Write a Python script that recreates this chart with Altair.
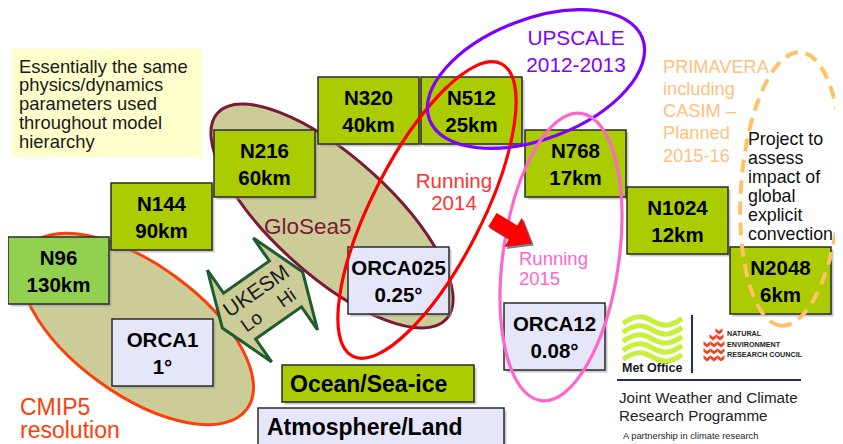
import altair as alt
import pandas as pd

# ------------------------------------------------------------------ data
# Diagram coordinates: x to the right, y downward (1 unit = 1 px of the slide)
box_line1 = ["N96", "N144", "N216", "N320", "N512", "N768", "N1024", "N2048", "ORCA1", "ORCA025", "ORCA12"]
box_line2 = ["130km", "90km", "60km", "40km", "25km", "17km", "12km", "6km", "1°", "0.25°", "0.08°"]
box_kind = ["n96"] + ["atm"] * 7 + ["ocn"] * 3
box_left = [8, 111, 214, 318, 421, 525, 627, 730, 112, 348, 504]
box_top = [237, 183, 130, 77, 77, 130, 187, 247, 319, 247, 303]

key_labels = ["Ocean/Sea-ice", "Atmosphere/Land"]
key_kind = ["atm", "ocn"]
key_left = [282, 258]
key_right = [474, 504]
key_top = [365, 408]
key_bottom = [402, 450]
key_text_x = [290, 267]
key_text_y = [385, 428]

note_lines = ["Essentially the same", "physics/dynamics", "parameters used",
              "throughout model", "hierarchy"]
note_rect = [12, 49, 202, 157]

ell_names = ["CMIP5", "GloSea5", "Running 2014", "UPSCALE", "Running 2015", "PRIMAVERA"]
ell_cx = [137, 332, 427, 536, 561, 791]
ell_cy = [329, 216, 210, 79, 257, 189]
ell_a = [136, 154, 164, 114, 145, 137]
ell_b = [65, 59, 55, 60, 58, 50]
ell_angle = [36, 42, 117, 339, 98, 94]
ell_stroke = ["#FF3D0A", "#7B1A35", "#FF0000", "#7F00FF", "#FF66CC", "#FFC266"]

wave_y = [321, 330, 339, 348, 357]
nerc_x = [719, 713, 720, 707, 714, 721, 707, 714, 721, 707, 714, 721]
nerc_y = [331, 337, 337, 344, 344, 344, 351, 351, 351, 358, 358, 358]

FILL = {"n96": "#92D050", "atm": "#AACC00", "ocn": "#E6E6FA"}
KHAKI = "#CCCC99"

# ------------------------------------------------------------------ helpers
XS = alt.Scale(domain=[8, 835], nice=False, zero=False)
YS = alt.Scale(domain=[8, 444], nice=False, zero=False, reverse=True)


def X(f):
    return alt.X(f"{f}:Q", scale=XS, axis=None)


def Y(f):
    return alt.Y(f"{f}:Q", scale=YS, axis=None)


def ellipse_path(r):
    k = 0.5523
    kr = round(k * r, 4)
    r = round(r, 4)
    return (f"M 1 0 C 1 {kr} {k} {r} 0 {r} C {-k} {r} -1 {kr} -1 0 "
            f"C -1 {-kr} {-k} {-r} 0 {-r} C {k} {-r} 1 {-kr} 1 0 Z")


ARROW = "M -1 -0.35 L 0.05 -0.35 L 0.05 -0.74 L 1 0 L 0.05 0.74 L 0.05 0.35 L -1 0.35 Z"
DOUBLE_ARROW = ("M 0.875 0 L 0.5 1 L 0.5 0.5 L -0.5 0.5 L -0.5 1 L -0.875 0 "
                "L -0.5 -1 L -0.5 -0.5 L 0.5 -0.5 L 0.5 -1 Z")
WAVE = "M -1 0.08 C -0.6 -0.2 -0.35 -0.2 0 0 C 0.35 0.2 0.6 0.2 1 -0.08"
CHEVRON = "M -1 -0.8 L 0 0 L 1 -0.8 L 1 0.2 L 0 1 L -1 0.2 Z"

# ------------------------------------------------------------------ frames
ell = pd.DataFrame(dict(name=ell_names, cx=ell_cx, cy=ell_cy, a=ell_a, b=ell_b,
                        angle=ell_angle, stroke=ell_stroke))
ell["shape"] = [ellipse_path(b / a) for a, b in zip(ell.a, ell.b)]
ell["size"] = (2 * ell.a) ** 2

boxes = pd.DataFrame(dict(l1=box_line1, l2=box_line2, kind=box_kind, left=box_left, top=box_top))
boxes["right"] = boxes.left + 101
boxes["bottom"] = boxes.top + 67
boxes["fill"] = boxes.kind.map(FILL)
boxes["cx"] = boxes.left + 50.5

keys = pd.DataFrame(dict(label=key_labels, kind=key_kind, left=key_left, right=key_right,
                         top=key_top, bottom=key_bottom, tx=key_text_x, ty=key_text_y))
keys["fill"] = keys.kind.map(FILL)

allrects = pd.concat([boxes[["left", "right", "top", "bottom", "fill"]],
                      keys[["left", "right", "top", "bottom", "fill"]]], ignore_index=True)
shadow = allrects.copy()
for c in ["left", "right", "top", "bottom"]:
    shadow[c] = shadow[c] + 2.5

box_text = pd.concat([
    pd.DataFrame(dict(x=boxes.cx, y=boxes.top + 21.5, t=boxes.l1)),
    pd.DataFrame(dict(x=boxes.cx, y=boxes.top + 48.5, t=boxes.l2)),
], ignore_index=True)

layers = []

# note box
layers.append(alt.Chart(pd.DataFrame(dict(l=[note_rect[0]], t=[note_rect[1]], r=[note_rect[2]], b=[note_rect[3]])))
              .mark_rect(color="#FFFFCC", opacity=1)
              .encode(x=X("l"), x2=alt.X2("r:Q"), y=Y("t"), y2=alt.Y2("b:Q")))

# filled ellipses (CMIP5, GloSea5)
layers.append(alt.Chart(ell.iloc[:2]).mark_point(filled=True, fill=KHAKI, strokeWidth=3, opacity=1,
                                                 fillOpacity=1, strokeOpacity=1)
              .encode(x=X("cx"), y=Y("cy"), shape=alt.Shape("shape:N", scale=None),
                      size=alt.Size("size:Q", scale=None), angle=alt.Angle("angle:Q", scale=None),
                      stroke=alt.Stroke("stroke:N", scale=None)))

# UKESM double arrow
layers.append(alt.Chart(pd.DataFrame(dict(cx=[262.5], cy=[300]))).mark_point(
    filled=True, fill=KHAKI, stroke="#1E5B2E", strokeWidth=3, opacity=1, fillOpacity=1, strokeOpacity=1,
    shape=DOUBLE_ARROW, size=12544, angle=325, strokeJoin="miter")
    .encode(x=X("cx"), y=Y("cy")))

# box shadows and boxes
layers.append(alt.Chart(shadow).mark_rect(color="#9A9A9A", opacity=0.55)
              .encode(x=X("left"), x2=alt.X2("right:Q"), y=Y("top"), y2=alt.Y2("bottom:Q")))
layers.append(alt.Chart(allrects).mark_rect(stroke="#2A2A2A", strokeWidth=1.5, opacity=1)
              .encode(x=X("left"), x2=alt.X2("right:Q"), y=Y("top"), y2=alt.Y2("bottom:Q"),
                      fill=alt.Fill("fill:N", scale=None)))
layers.append(alt.Chart(box_text).mark_text(font="Liberation Sans", fontWeight="bold", fontSize=20.5,
                                            color="#000000", align="center", baseline="middle")
              .encode(x=X("x"), y=Y("y"), text="t:N"))
layers.append(alt.Chart(keys).mark_text(font="Liberation Sans", fontWeight="bold", fontSize=23,
                                        color="#000000", align="left", baseline="middle")
              .encode(x=X("tx"), y=Y("ty"), text="label:N"))

# outline ellipses
layers.append(alt.Chart(ell.iloc[2:5]).mark_point(filled=False, strokeWidth=3.2, opacity=1, strokeOpacity=1)
              .encode(x=X("cx"), y=Y("cy"), shape=alt.Shape("shape:N", scale=None),
                      size=alt.Size("size:Q", scale=None), angle=alt.Angle("angle:Q", scale=None),
                      stroke=alt.Stroke("stroke:N", scale=None)))
layers.append(alt.Chart(ell.iloc[5:]).mark_point(filled=False, strokeWidth=4, opacity=1, strokeOpacity=1,
                                                 strokeDash=[13, 8])
              .encode(x=X("cx"), y=Y("cy"), shape=alt.Shape("shape:N", scale=None),
                      size=alt.Size("size:Q", scale=None), angle=alt.Angle("angle:Q", scale=None),
                      stroke=alt.Stroke("stroke:N", scale=None)))

# red arrow with shadow
layers.append(alt.Chart(pd.DataFrame(dict(cx=[514.1], cy=[233.7]))).mark_point(
    filled=True, fill="#6A80A8", opacity=1, fillOpacity=1, shape=ARROW, size=2116, angle=31, strokeWidth=0)
    .encode(x=X("cx"), y=Y("cy")))
layers.append(alt.Chart(pd.DataFrame(dict(cx=[512.1], cy=[231.7]))).mark_point(
    filled=True, fill="#FF0000", opacity=1, fillOpacity=1, shape=ARROW, size=2116, angle=31, strokeWidth=0)
    .encode(x=X("cx"), y=Y("cy")))


# free text blocks
def text_block(lines, x, y0, dy, size, color, align="left", weight="normal", font="Liberation Sans", angle=0):
    df = pd.DataFrame(dict(t=lines, x=[x] * len(lines), y=[y0 + i * dy for i in range(len(lines))]))
    kw = dict(font=font, fontSize=size, fontWeight=weight, color=color, align=align, baseline="middle")
    if angle:
        kw["angle"] = angle
    return alt.Chart(df).mark_text(**kw).encode(x=X("x"), y=Y("y"), text="t:N")


layers += [
    text_block(note_lines, 19, 66.7, 18.75, 18.4, "#1A1A1A"),
    text_block(["CMIP5", "resolution"], 20, 408, 22.5, 23, "#FF3D0A"),
    text_block(["GloSea5"], 264, 227, 0, 22.5, "#7B1A35"),
    text_block(["Running", "2014"], 454, 182, 22, 20.5, "#FF3333", align="center"),
    text_block(["UPSCALE", "2012-2013"], 576, 39, 26.5, 20.8, "#7F00FF", align="center"),
    text_block(["Running", "2015"], 519, 259, 19.5, 18.5, "#FF66CC"),
    text_block(["PRIMAVERA", "including", "CASIM –", "Planned", "2015-16"], 663, 67.7, 22.25, 18.2, "#FFC080"),
    text_block(["Project to", "assess", "impact of", "global", "explicit", "convection"], 748, 140, 19, 17.8,
               "#111111"),
    text_block(["UKESM"], 256.7, 291.7, 0, 21, "#1B1B1B", align="center", angle=325),
    text_block(["Lo"], 251.7, 321.7, 0, 19, "#1B1B1B", align="center", angle=325),
    text_block(["Hi"], 286.7, 298.3, 0, 19, "#1B1B1B", align="center", angle=325),
    text_block(["Joint Weather and Climate", "Research Programme"], 619, 398, 17.5, 15.2, "#222222"),
    text_block(["A partnership in climate research"], 623, 436, 0, 9.3, "#222222"),
    text_block(["Met Office"], 622, 368, 0, 12.5, "#1A1A1A", weight="bold"),
    text_block(["NATURAL", "ENVIRONMENT", "RESEARCH COUNCIL"], 727, 334.3, 10.3, 7.2, "#222222", weight="bold"),
]

# logos: Met Office waves, NERC chevrons, separator rules
layers.append(alt.Chart(pd.DataFrame(dict(cx=[652.5] * len(wave_y), cy=wave_y))).mark_point(
    filled=False, stroke="#C6F03A", strokeWidth=5, opacity=1, strokeOpacity=1, shape=WAVE, size=3481)
    .encode(x=X("cx"), y=Y("cy")))
layers.append(alt.Chart(pd.DataFrame(dict(cx=nerc_x, cy=nerc_y))).mark_point(
    filled=True, fill="#EE4422", opacity=1, fillOpacity=1, shape=CHEVRON, size=49, strokeWidth=0)
    .encode(x=X("cx"), y=Y("cy")))
layers.append(alt.Chart(pd.DataFrame(dict(x=[692], y=[315], y2=[373]))).mark_rule(color="#1F2F5F", strokeWidth=2)
              .encode(x=X("x"), y=Y("y"), y2=alt.Y2("y2:Q")))
layers.append(alt.Chart(pd.DataFrame(dict(x=[617], x2=[801], y=[380]))).mark_rule(color="#1F3060", strokeWidth=2)
              .encode(x=X("x"), x2=alt.X2("x2:Q"), y=Y("y")))

chart = (alt.layer(*layers)
         .properties(width=827, height=436, padding=0, background="white",
                     autosize=alt.AutoSizeParams(type="none"))
         .configure_view(strokeWidth=0))

chart.save("out.html", embed_options={"renderer": "svg", "actions": False})
